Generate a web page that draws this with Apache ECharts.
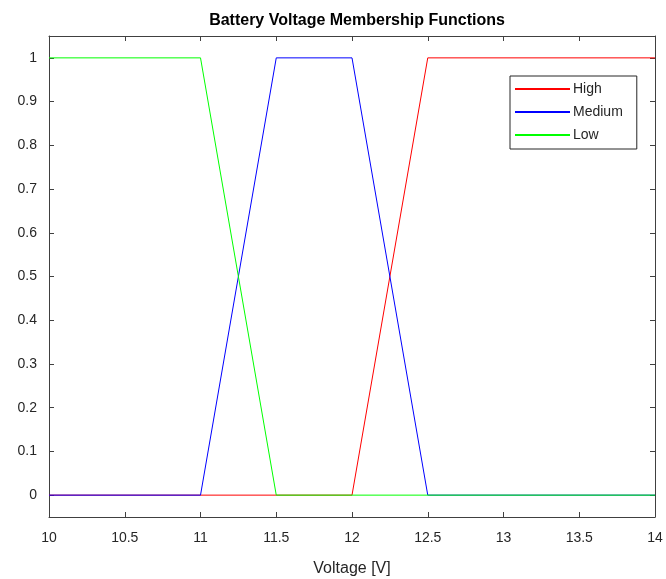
<!doctype html>
<html lang="en">
<head>
    <meta charset="UTF-8">
    <title>Battery Voltage Membership Functions</title>
    <style>
        * { margin: 0; padding: 0; }
        body { background: #fff; }
        #chart { width: 666px; height: 579px; }
    </style>
</head>
<body>
<script src="https://cdn.jsdelivr.net/npm/echarts@6/dist/echarts.min.js"></script>
<div id="chart"></div>
<script type="application/javascript">
    // membership functions, [voltage, degree]
    const highPts = [[10, 0], [12, 0], [12.5, 1], [14, 1]];
    const mediumPts = [[10, 0], [11, 0], [11.5, 1], [12, 1], [12.5, 0], [14, 0]];
    const lowPts = [[10, 1], [11, 1], [11.5, 0], [14, 0]];
    const xTicks = [10, 10.5, 11, 11.5, 12, 12.5, 13, 13.5, 14];
    const yTicks = [0, 0.1, 0.2, 0.3, 0.4, 0.5, 0.6, 0.7, 0.8, 0.9, 1];

    const axisColor = '#404040';
    const textColor = '#262626';
    const font = 'Liberation Sans, Arial, sans-serif';

    const xAxisBase = function (show) {
        return {
            type: 'value',
            min: 10,
            max: 14,
            interval: 0.5,
            axisLine: {show: true, onZero: false, lineStyle: {color: axisColor, width: 1}},
            axisTick: {show: true, inside: true, length: 5, lineStyle: {color: axisColor}},
            axisLabel: {
                show: show,
                color: textColor,
                fontSize: 14,
                fontFamily: font,
                margin: 14,
                formatter: function (v) { return String(v); }
            },
            splitLine: {show: false}
        };
    };

    const yAxisBase = function (show) {
        return {
            type: 'value',
            min: -0.05,
            max: 1.05,
            axisLine: {show: true, onZero: false, lineStyle: {color: axisColor, width: 1}},
            axisTick: {show: true, inside: true, length: 5, customValues: yTicks, lineStyle: {color: axisColor}},
            axisLabel: {
                show: show,
                customValues: yTicks,
                color: textColor,
                fontSize: 14,
                fontFamily: font,
                margin: 12,
                formatter: function (v) { return String(Math.round(v * 10) / 10); }
            },
            splitLine: {show: false}
        };
    };

    const xBottom = xAxisBase(true);
    xBottom.position = 'bottom';
    xBottom.name = 'Voltage [V]';
    xBottom.nameLocation = 'middle';
    xBottom.nameGap = 44;
    xBottom.nameTextStyle = {color: textColor, fontSize: 16, fontFamily: font};
    const xTop = xAxisBase(false);
    xTop.position = 'top';

    const yLeft = yAxisBase(true);
    yLeft.position = 'left';
    const yRight = yAxisBase(false);
    yRight.position = 'right';

    const lineSeries = function (name, data, color) {
        return {
            name: name,
            type: 'line',
            data: data,
            xAxisIndex: 0,
            yAxisIndex: 0,
            showSymbol: false,
            symbol: 'none',
            lineStyle: {color: color, width: 1},
            itemStyle: {color: color},
            animation: false
        };
    };

    const chart = echarts.init(document.getElementById('chart'));
    chart.setOption({
        backgroundColor: '#ffffff',
        animation: false,
        title: {
            text: 'Battery Voltage Membership Functions',
            left: 352,
            textAlign: 'center',
            top: 8,
            textStyle: {color: '#000', fontSize: 16, fontWeight: 'bold', fontFamily: font}
        },
        grid: {left: 49, right: 11, top: 36, bottom: 62, containLabel: false, outerBoundsMode: 'none'},
        legend: {
            orient: 'vertical',
            left: 510,
            top: 76,
            itemWidth: 55,
            itemHeight: 2,
            itemGap: 9,
            padding: [6, 14, 7, 5],
            borderColor: '#262626',
            borderWidth: 1,
            backgroundColor: '#fff',
            icon: 'rect',
            textStyle: {color: textColor, fontSize: 14, fontFamily: font, padding: [0, 0, 0, -2]},
            data: ['High', 'Medium', 'Low']
        },
        xAxis: [xBottom, xTop],
        yAxis: [yLeft, yRight],
        series: [
            lineSeries('High', highPts, '#ff0000'),
            lineSeries('Medium', mediumPts, '#0000ff'),
            lineSeries('Low', lowPts, '#00ff00')
        ]
    });
</script>
</body>
</html>
